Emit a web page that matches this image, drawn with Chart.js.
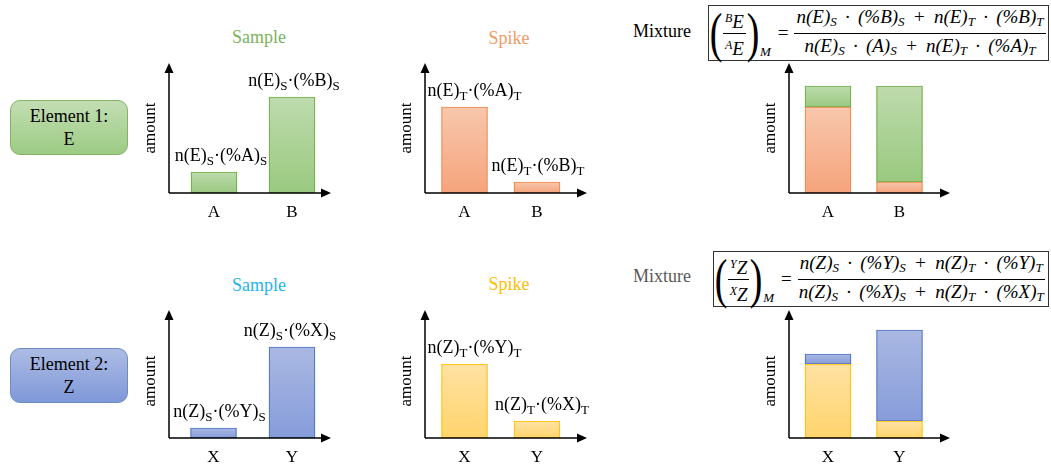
<!DOCTYPE html>
<html>
<head>
<meta charset="utf-8">
<script src="https://cdn.jsdelivr.net/npm/chart.js@4.4.0/dist/chart.umd.min.js"></script>
<style>
  body { margin: 0; width: 1051px; height: 472px; background: #fff; position: relative; overflow: hidden;
         font-family: "Liberation Serif", Tinos, "Times New Roman", Times, "DejaVu Serif", serif; }
  canvas { position: absolute; left: 0; top: 0; pointer-events: none; }
  .t { position: absolute; font-size: 18px; transform: translate(-50%, -50%); white-space: nowrap; }
  .el { position: absolute; left: 10px; width: 118px; height: 55px; border-radius: 10px; box-sizing: border-box;
        display: flex; align-items: center; justify-content: center; text-align: center; font-size: 18px; line-height: 23px; }
  .eqbox { position: absolute; border: 1.5px solid #333; box-sizing: border-box; display: flex; align-items: center;
           font-style: italic; font-size: 19px; white-space: nowrap; padding-left: 0; }
  .fr { display: inline-flex; flex-direction: column; align-items: center; line-height: 21px; }
  .fr > span:first-child { border-bottom: 1.3px solid #000; padding: 0 2px 1px; }
  .fr > span:last-child { padding-top: 1px; }
  .fr sub { font-size: 13px; vertical-align: -3px; }
  .fr sup { font-size: 12px; vertical-align: 6px; }
  .num { word-spacing: 3.5px; }
  .par { font-style: normal; font-size: 54px; line-height: 52px; display: inline-block; transform: scaleX(0.7); margin: 0 -2px; }
  .m { font-size: 13px; align-self: flex-end; margin-bottom: 0px; margin-left: 0; }
  .eqs { font-style: normal; margin: 0 6px 0 7px; }
</style>
</head>
<body>
<div class="t" style="left:259px;top:37px;color:#7AB45A">Sample</div>
<div class="t" style="left:509px;top:38px;color:#F29A66">Spike</div>
<div class="t" style="left:259px;top:285px;color:#1FB3EE">Sample</div>
<div class="t" style="left:509px;top:284px;color:#FFC000">Spike</div>
<div class="t" style="left:662px;top:31px;color:#000">Mixture</div>
<div class="t" style="left:662px;top:276px;color:#595959">Mixture</div>

<div class="el" style="top:100px;border:1px solid #82B366;background:linear-gradient(#C3DEB3,#9CCB84)">Element 1:<br>E</div>
<div class="el" style="top:348px;border:1px solid #6C8EBF;background:linear-gradient(#ADBCE5,#7F98D8)">Element 2:<br>Z</div>

<div class="eqbox" style="left:708px;top:5px;width:341px;height:56px">
  <span class="par">(</span>
  <span class="fr"><span><sup>B</sup>E</span><span><sup>A</sup>E</span></span>
  <span class="par">)</span><span class="m">M</span>
  <span class="eqs">=</span>
  <span class="fr num"><span>n(E)<sub>S</sub> · (%B)<sub>S</sub> + n(E)<sub>T</sub> · (%B)<sub>T</sub></span><span>n(E)<sub>S</sub> · (A)<sub>S</sub> + n(E)<sub>T</sub> · (%A)<sub>T</sub></span></span>
</div>
<div class="eqbox" style="left:713px;top:251px;width:336px;height:56px">
  <span class="par">(</span>
  <span class="fr"><span><sup>Y</sup>Z</span><span><sup>X</sup>Z</span></span>
  <span class="par">)</span><span class="m">M</span>
  <span class="eqs">=</span>
  <span class="fr num"><span>n(Z)<sub>S</sub> · (%Y)<sub>S</sub> + n(Z)<sub>T</sub> · (%Y)<sub>T</sub></span><span>n(Z)<sub>S</sub> · (%X)<sub>S</sub> + n(Z)<sub>T</sub> · (%X)<sub>T</sub></span></span>
</div>

<canvas id="c1" width="1051" height="472"></canvas>
<canvas id="c2" width="1051" height="472"></canvas>
<canvas id="c3" width="1051" height="472"></canvas>
<canvas id="c4" width="1051" height="472"></canvas>
<canvas id="c5" width="1051" height="472"></canvas>
<canvas id="c6" width="1051" height="472"></canvas>

<script>
// categories
const catsE = ['A', 'B'];
const catsZ = ['X', 'Y'];

// amounts (arbitrary units)
const sampleE = [21, 96];
const spikeE = [86, 11];
const sampleZ = [10, 91];
const spikeZ = [74, 17];

const yMaxTop = 130;
const yMaxBottom = 128;

// bar labels, "_x" = subscript x
const labelsSampleE = ['n(E)_S·(%A)_S', 'n(E)_S·(%B)_S'];
const labelsSpikeE = ['n(E)_T·(%A)_T', 'n(E)_T·(%B)_T'];
const labelsSampleZ = ['n(Z)_S·(%Y)_S', 'n(Z)_S·(%X)_S'];
const labelsSpikeZ = ['n(Z)_T·(%Y)_T', 'n(Z)_T·(%X)_T'];

const FONT = '"Liberation Serif", Tinos, "Times New Roman", Times, "DejaVu Serif", serif';
const green = { top: '#BEDBAD', bot: '#99C97F', line: '#70AD47' };
const orange = { top: '#F8C7AC', bot: '#F5A47C', line: '#F0874A' };
const blue = { top: '#AAB8E2', bot: '#869CDA', line: '#4A74C6' };
const yellow = { top: '#FFE2A4', bot: '#FFD46C', line: '#FFC000' };

// gradient per bar (or per stacked segment)
function grad(col) {
  return c => {
    const chart = c.chart;
    if (!chart.chartArea || c.type !== 'data') return col.bot;
    const y = chart.scales.y;
    let base = 0;
    if (chart.options.scales.y.stacked) {
      for (let i = 0; i < c.datasetIndex; i++) base += chart.data.datasets[i].data[c.dataIndex];
    }
    const v = chart.data.datasets[c.datasetIndex].data[c.dataIndex];
    const g = chart.ctx.createLinearGradient(0, y.getPixelForValue(base + v), 0, y.getPixelForValue(base));
    g.addColorStop(0, col.top);
    g.addColorStop(1, col.bot);
    return g;
  };
}

function drawRich(ctx, str, cx, base, size) {
  const parts = str.split(/_(.)/);
  const fn = i => (i % 2 ? size * 0.72 : size) + 'px ' + FONT;
  let w = 0;
  parts.forEach((p, i) => { ctx.font = fn(i); w += ctx.measureText(p).width; });
  let x = cx - w / 2;
  ctx.textBaseline = 'alphabetic';
  ctx.textAlign = 'left';
  parts.forEach((p, i) => {
    ctx.font = fn(i);
    ctx.fillText(p, x, base + (i % 2 ? 4 : 0));
    x += ctx.measureText(p).width;
  });
}

const diagram = {
  id: 'diagram',
  afterDatasetsDraw(chart, args, o) {
    const { ctx, chartArea: a } = chart;
    ctx.save();
    ctx.strokeStyle = '#000';
    ctx.fillStyle = '#000';
    ctx.lineWidth = 1.5;
    const ax = o.axisX, ay = a.bottom;
    ctx.beginPath();
    ctx.moveTo(ax, ay); ctx.lineTo(ax, a.top + 8);
    ctx.moveTo(ax, ay); ctx.lineTo(o.arrowEnd - 8, ay);
    ctx.stroke();
    ctx.beginPath();
    ctx.moveTo(ax, a.top); ctx.lineTo(ax - 4.5, a.top + 10); ctx.lineTo(ax + 4.5, a.top + 10); ctx.closePath();
    ctx.fill();
    ctx.beginPath();
    ctx.moveTo(o.arrowEnd, ay); ctx.lineTo(o.arrowEnd - 10, ay - 4.5); ctx.lineTo(o.arrowEnd - 10, ay + 4.5); ctx.closePath();
    ctx.fill();

    // labels above bars
    if (o.labels) {
      const meta = chart.getDatasetMeta(0);
      meta.data.forEach((el, i) => drawRich(ctx, o.labels[i], el.x + o.dx[i], el.y - 11, 18));
    }

    // y title
    ctx.translate(ax - 18, (a.top + a.bottom) / 2 + o.amountDy);
    ctx.rotate(-Math.PI / 2);
    ctx.font = '17px ' + FONT;
    ctx.textAlign = 'center';
    ctx.textBaseline = 'middle';
    ctx.fillText('amount', 0, 0);
    ctx.restore();
  }
};

const XH = 30; // height kept for x tick labels

function makeChart(id, spec) {
  const [l, r, t, b] = spec.area;
  new Chart(document.getElementById(id), {
    type: 'bar',
    data: {
      labels: spec.cats,
      datasets: spec.sets.map(s => ({
        data: s.data,
        backgroundColor: grad(s.col),
        borderColor: s.col.line,
        borderWidth: 1.2,
        borderSkipped: false,
        barThickness: 46
      }))
    },
    options: {
      responsive: false,
      animation: false,
      events: [],
      layout: { padding: { left: l, right: 1051 - r, top: t, bottom: 472 - b - XH } },
      plugins: {
        legend: { display: false },
        tooltip: { enabled: false },
        diagram: { axisX: spec.axisX, arrowEnd: spec.arrowEnd, labels: spec.labels, dx: spec.dx, amountDy: spec.amountDy }
      },
      scales: {
        x: {
          stacked: !!spec.stacked,
          grid: { display: false, drawTicks: false },
          border: { display: false },
          ticks: { color: '#000', font: { family: FONT, size: 17 }, padding: 9 },
          afterFit: s => { s.height = XH; }
        },
        y: { display: false, stacked: !!spec.stacked, min: 0, max: spec.yMax }
      }
    },
    plugins: [diagram]
  });
}

makeChart('c1', { area: [175, 331, 63, 193], axisX: 169, arrowEnd: 331, cats: catsE, yMax: yMaxTop,
  sets: [{ data: sampleE, col: green }], labels: labelsSampleE, dx: [7, 2], amountDy: 0 });
makeChart('c2', { area: [428.25, 573.25, 63, 193], axisX: 425, arrowEnd: 587, cats: catsE, yMax: yMaxTop,
  sets: [{ data: spikeE, col: orange }], labels: labelsSpikeE, dx: [10, 1], amountDy: 0 });
makeChart('c3', { area: [792.25, 935.25, 63, 193], axisX: 789, arrowEnd: 950, cats: catsE, yMax: yMaxTop, stacked: true,
  sets: [{ data: spikeE, col: orange }, { data: sampleE, col: green }], amountDy: 0 });
makeChart('c4', { area: [174.25, 331.25, 310, 438], axisX: 169, arrowEnd: 331, cats: catsZ, yMax: yMaxBottom,
  sets: [{ data: sampleZ, col: blue }], labels: labelsSampleZ, dx: [6, -2], amountDy: 7 });
makeChart('c5', { area: [428.25, 573.25, 310, 438], axisX: 425, arrowEnd: 587, cats: catsZ, yMax: yMaxBottom,
  sets: [{ data: spikeZ, col: yellow }], labels: labelsSpikeZ, dx: [10, 5], amountDy: 7 });
makeChart('c6', { area: [792.25, 935.25, 310, 438], axisX: 789, arrowEnd: 950, cats: catsZ, yMax: yMaxBottom, stacked: true,
  sets: [{ data: spikeZ, col: yellow }, { data: sampleZ, col: blue }], amountDy: 7 });
</script>
</body>
</html>
